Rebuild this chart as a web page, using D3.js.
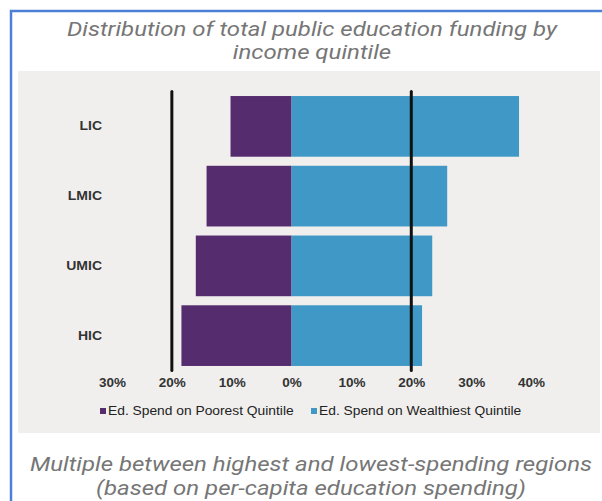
<!DOCTYPE html>
<html>
<head>
<meta charset="UTF-8" />
<style>
    body { margin: 0; padding: 0; background: #fff; }
    .title { font-family: Roboto, sans-serif; font-style: italic; fill: #767676; font-size: 20.5px; }
    .axis text { font-family: "Liberation Sans", Arial, sans-serif; font-weight: bold; fill: #333; }
    .legend text { font-family: "Liberation Sans", Arial, sans-serif; fill: #222; }
</style>
<title>Education funding by quintile</title>
</head>
<body>
<svg width="602" height="501"></svg>
<script src="https://d3js.org/d3.v7.min.js"></script>
<script>
    // data (percent of total public education funding)
    const categories = ["LIC", "LMIC", "UMIC", "HIC"];
    const poorest = [10.2, 14.2, 16.0, 18.4];
    const wealthiest = [38.0, 26.0, 23.5, 21.8];
    const refLines = [-20, 20];
    const xTicks = [-30, -20, -10, 0, 10, 20, 30, 40];
    const seriesNames = ["Ed. Spend on Poorest Quintile", "Ed. Spend on Wealthiest Quintile"];
    const seriesColors = ["#552c6d", "#3f98c5"];
    const titleLines = ["Distribution of total public education funding by", "income quintile"];
    const footLines = ["Multiple between highest and lowest-spending regions", "(based on per-capita education spending)"];

    const svg = d3.select("svg");

    // the source picture is a bit wider than tall, stretch text to match
    function stretch(sel, k) {
        sel.each(function () {
            const len = this.getComputedTextLength();
            d3.select(this).attr("textLength", len * k).attr("lengthAdjust", "spacingAndGlyphs");
        });
    }

    // frame + panel
    svg.append("path")
        .attr("d", "M11,501 L11,11 L602,11")
        .attr("fill", "none")
        .attr("stroke", "#4c80d6")
        .attr("stroke-width", 2.5);

    svg.append("rect")
        .attr("x", 18).attr("y", 71)
        .attr("width", 582).attr("height", 362)
        .attr("fill", "#f0efed");

    // titles
    svg.append("g").selectAll("text")
        .data(titleLines)
        .enter().append("text")
        .attr("class", "title")
        .attr("text-anchor", "middle")
        .attr("x", 312)
        .attr("y", (d, i) => 36 + i * 23)
        .text(d => d)
        .call(stretch, 1.17);

    svg.append("g").selectAll("text")
        .data(footLines)
        .enter().append("text")
        .attr("class", "title")
        .attr("text-anchor", "middle")
        .attr("x", 311)
        .attr("y", (d, i) => 471 + i * 23.5)
        .text(d => d)
        .call(stretch, 1.17);

    const x = d3.scaleLinear().domain([-30, 40]).range([112, 531]);
    const y = d3.scaleBand().domain(categories)
        .range([91.5, 370.5])
        .paddingInner(0.13)
        .paddingOuter(0.065);

    const rows = categories.map((c, i) => ({ cat: c, poor: poorest[i], rich: wealthiest[i] }));

    svg.append("g").selectAll("rect")
        .data(rows)
        .enter().append("rect")
        .attr("x", d => x(-d.poor))
        .attr("y", d => y(d.cat))
        .attr("width", d => x(0) - x(-d.poor))
        .attr("height", y.bandwidth())
        .attr("fill", seriesColors[0]);

    svg.append("g").selectAll("rect")
        .data(rows)
        .enter().append("rect")
        .attr("x", x(0))
        .attr("y", d => y(d.cat))
        .attr("width", d => x(d.rich) - x(0))
        .attr("height", y.bandwidth())
        .attr("fill", seriesColors[1]);

    // reference lines at 20%
    svg.append("g").selectAll("line")
        .data(refLines)
        .enter().append("line")
        .attr("x1", d => x(d)).attr("x2", d => x(d))
        .attr("y1", y.range()[0]).attr("y2", y.range()[1])
        .attr("stroke", "#111")
        .attr("stroke-width", 3)
        .attr("stroke-linecap", "round");

    // axes
    const xAxis = svg.append("g")
        .attr("class", "axis")
        .attr("transform", "translate(0,378)")
        .call(d3.axisBottom(x).tickValues(xTicks).tickSize(0).tickPadding(0)
            .tickFormat(d => Math.abs(d) + "%"));
    xAxis.select(".domain").remove();
    xAxis.selectAll("text").style("font-size", "12.5px").call(stretch, 1.08);

    const yAxis = svg.append("g")
        .attr("class", "axis")
        .attr("transform", "translate(102,0)")
        .call(d3.axisLeft(y).tickSize(0).tickPadding(0));
    yAxis.select(".domain").remove();
    yAxis.selectAll("text").style("font-size", "12.5px").call(stretch, 1.12);

    // legend
    const legendX = [100, 311];
    const legend = svg.append("g").attr("class", "legend")
        .selectAll("g")
        .data(seriesNames)
        .enter().append("g")
        .attr("transform", (d, i) => "translate(" + legendX[i] + ",411)");
    legend.append("rect")
        .attr("x", 0).attr("y", -3)
        .attr("width", 6).attr("height", 6)
        .attr("fill", (d, i) => seriesColors[i]);
    legend.append("text")
        .attr("x", 8).attr("dy", "0.35em")
        .style("font-size", "12px")
        .text(d => d)
        .call(stretch, 1.15);
</script>
</body>
</html>
